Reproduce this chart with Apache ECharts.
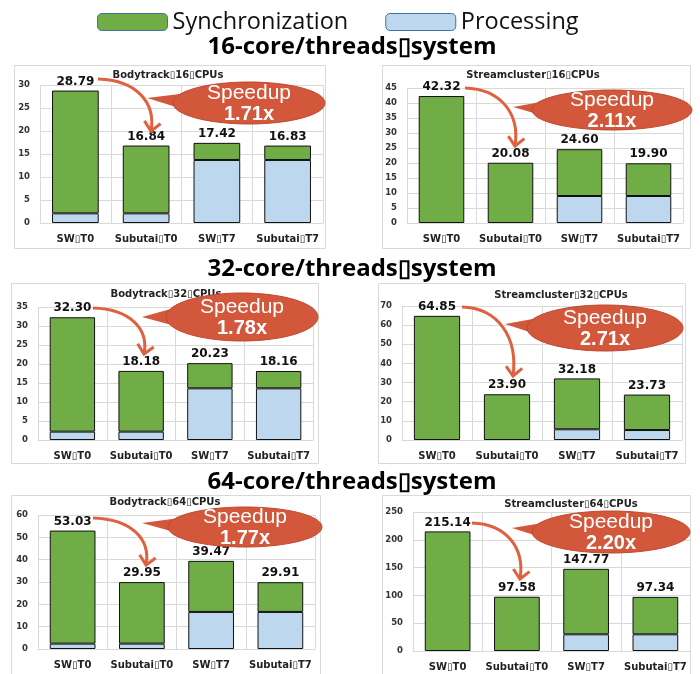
<!DOCTYPE html>
<html><head><meta charset="utf-8">
<script src="https://cdn.jsdelivr.net/npm/echarts@6/dist/echarts.min.js"></script>
<style>html,body{margin:0;padding:0;background:#fff}#c{width:700px;height:674px}</style>
</head><body><div id="c"></div>
<script>
const X = '\u25AF';
const categories = ['SW'+X+'T0', 'Subutai'+X+'T0', 'SW'+X+'T7', 'Subutai'+X+'T7'];
const sectionTitles = ['16-core/threads'+X+'system', '32-core/threads'+X+'system', '64-core/threads'+X+'system'];
const panelTitles = ['Bodytrack'+X+'16'+X+'CPUs', 'Streamcluster'+X+'16'+X+'CPUs',
                     'Bodytrack'+X+'32'+X+'CPUs', 'Streamcluster'+X+'32'+X+'CPUs',
                     'Bodytrack'+X+'64'+X+'CPUs', 'Streamcluster'+X+'64'+X+'CPUs'];
const speedups = ['1.71x', '2.11x', '1.78x', '2.71x', '1.77x', '2.20x'];

const body16Proc = [2.1, 2.1, 13.7, 13.7];
const body16Sync = [26.69, 14.74, 3.72, 3.13];
const body16Total = [28.79, 16.84, 17.42, 16.83];
const stream16Proc = [0, 0, 9.0, 9.0];
const stream16Sync = [42.32, 20.08, 15.60, 10.90];
const stream16Total = [42.32, 20.08, 24.60, 19.90];
const body32Proc = [2.2, 2.2, 13.6, 13.6];
const body32Sync = [30.10, 15.98, 6.63, 4.56];
const body32Total = [32.30, 18.18, 20.23, 18.16];
const stream32Proc = [0, 0, 5.6, 5.2];
const stream32Sync = [64.85, 23.90, 26.58, 18.53];
const stream32Total = [64.85, 23.90, 32.18, 23.73];
const body64Proc = [2.4, 2.4, 16.6, 16.6];
const body64Sync = [50.63, 27.55, 22.87, 13.31];
const body64Total = [53.03, 29.95, 39.47, 29.91];
const stream64Proc = [0, 0, 30, 30];
const stream64Sync = [215.14, 97.58, 117.77, 67.34];
const stream64Total = [215.14, 97.58, 147.77, 97.34];

const yMax = [30, 45, 35, 70, 60, 250];
const yStep = [5, 5, 5, 10, 10, 50];

const procData = [body16Proc, stream16Proc, body32Proc, stream32Proc, body64Proc, stream64Proc];
const syncData = [body16Sync, stream16Sync, body32Sync, stream32Sync, body64Sync, stream64Sync];
const totalData = [body16Total, stream16Total, body32Total, stream32Total, body64Total, stream64Total];

// layout
const grids = [
  {left: 40, top: 85, width: 283, height: 138},
  {left: 407, top: 88, width: 276, height: 135},
  {left: 38, top: 307, width: 275, height: 133},
  {left: 402, top: 306, width: 280, height: 134},
  {left: 38, top: 515, width: 277, height: 134},
  {left: 413, top: 512, width: 277, height: 139}
];
const panelBoxes = [
  [14, 65, 311, 183], [382, 65, 308, 183],
  [11, 283, 307, 180], [378, 283, 307, 180],
  [11, 495, 309, 200], [382, 495, 308, 200]
];
const panelTitlePos = [[168, 75], [533, 75], [166, 294], [561, 295], [165, 502], [571, 504]];
const sectionTitlePos = [[352, 47], [352, 269], [352, 482]];
const bubbles = [ // cx, cy, rx, ry, tipX, tipY
  [249, 103, 76, 21, 147, 98],
  [612, 110, 80, 20, 513, 107],
  [242, 317, 76, 24, 142, 317],
  [605, 328, 78, 23, 505, 324],
  [245, 527, 77, 20, 142, 523],
  [611, 532, 79, 21, 512, 528]
];
const arrows = [ // sx, sy, ex, ey
  [98, 79, 151, 131],
  [465, 88, 515, 146],
  [93, 308, 144, 354],
  [462, 307, 513, 376],
  [93, 518, 146, 565],
  [472, 523, 520, 579]
];

const GREEN = '#70AD47', BLUE = '#BDD7EE', RED = '#D2573B';
const font = '"Open Sans", "Noto Sans", sans-serif';
const dv = '"DejaVu Sans", sans-serif';

const option = {
  animation: false,
  grid: [], xAxis: [], yAxis: [], series: [], graphic: []
};

for (let i = 0; i < 6; i++) {
  option.grid.push(Object.assign({containLabel: false}, grids[i]));
  option.xAxis.push({
    type: 'category', gridIndex: i, data: categories,
    axisLine: {show: true, lineStyle: {color: '#d9d9d9'}},
    axisTick: {show: false},
    splitLine: {show: true, lineStyle: {color: '#d9d9d9'}},
    axisLabel: {color: '#222', fontWeight: 'bold', fontSize: 10, fontFamily: dv, margin: 11, interval: 0}
  });
  option.yAxis.push({
    type: 'value', gridIndex: i, min: 0, max: yMax[i], interval: yStep[i],
    axisLine: {show: false}, axisTick: {show: false},
    splitLine: {lineStyle: {color: '#d9d9d9'}},
    axisLabel: {color: '#333', fontWeight: 'bold', fontSize: 8.5, fontFamily: dv, margin: 10}
  });
  option.series.push({
    name: 'Processing', type: 'bar', stack: 's' + i, xAxisIndex: i, yAxisIndex: i,
    data: procData[i].map(v => v === 0 ? '-' : v), barWidth: '66%',
    itemStyle: {color: BLUE, borderColor: '#111', borderWidth: 1}
  });
  const totals = totalData[i];
  option.series.push({
    name: 'Synchronization', type: 'bar', stack: 's' + i, xAxisIndex: i, yAxisIndex: i,
    data: syncData[i], barWidth: '66%',
    itemStyle: {color: GREEN, borderColor: '#111', borderWidth: 1},
    label: {show: true, position: 'top', distance: 3, color: '#111', fontWeight: 'bold',
      fontSize: 12, fontFamily: dv,
      formatter: p => totals[p.dataIndex].toFixed(2)}
  });

  const b = panelBoxes[i];
  option.graphic.push({type: 'rect', z: -1, silent: true,
    shape: {x: b[0] + 0.5, y: b[1] + 0.5, width: b[2], height: b[3]},
    style: {fill: null, stroke: '#d9d9d9', lineWidth: 1}});
  const t = panelTitlePos[i];
  option.graphic.push({type: 'text', z: 10, x: t[0], y: t[1], silent: true,
    style: {text: panelTitles[i], fill: '#222', font: 'bold 10px ' + dv, align: 'center', verticalAlign: 'middle'}});

  // arrow
  const a = arrows[i];
  const dx = a[2] - a[0], dy = a[3] - a[1];
  const cp1 = [a[0] + 0.72 * dx, a[1] + 1];
  const cp2 = [a[2] + 5, a[1] + 0.45 * dy];
  option.graphic.push({type: 'bezierCurve', z: 20, silent: true,
    shape: {x1: a[0], y1: a[1], cpx1: cp1[0], cpy1: cp1[1], cpx2: cp2[0], cpy2: cp2[1], x2: a[2], y2: a[3]},
    style: {stroke: '#E0613F', lineWidth: 3, fill: null}});
  const ang = Math.atan2(a[3] - cp2[1], a[2] - cp2[0]);
  const L = 12, spread = 0.75;
  const p1 = [a[2] - L * Math.cos(ang - spread), a[3] - L * Math.sin(ang - spread)];
  const p2 = [a[2] - L * Math.cos(ang + spread), a[3] - L * Math.sin(ang + spread)];
  option.graphic.push({type: 'polyline', z: 20, silent: true,
    shape: {points: [p1, [a[2], a[3]], p2]},
    style: {stroke: '#E0613F', lineWidth: 3, fill: null, lineJoin: 'miter'}});

  // bubble
  const q = bubbles[i];
  option.graphic.push({type: 'polygon', z: 30, silent: true,
    shape: {points: [[q[4], q[5]], [q[0] - q[2] * 0.75, q[1] - q[3] * 0.5], [q[0] - q[2] * 0.5, q[1] + q[3] * 0.7]]},
    style: {fill: RED}});
  option.graphic.push({type: 'ellipse', z: 30, silent: true,
    shape: {cx: q[0], cy: q[1], rx: q[2], ry: q[3]},
    style: {fill: RED, stroke: '#C0472E', lineWidth: 1}});
  option.graphic.push({type: 'text', z: 31, x: q[0], y: q[1] - 10, silent: true,
    style: {text: 'Speedup', fill: '#fff', font: '21px "Liberation Sans", Arial, sans-serif', align: 'center', verticalAlign: 'middle'}});
  option.graphic.push({type: 'text', z: 31, x: q[0], y: q[1] + 11, silent: true,
    style: {text: speedups[i], fill: '#fff', font: 'bold 20px "Liberation Sans", Arial, sans-serif', align: 'center', verticalAlign: 'middle'}});
}

for (let s = 0; s < 3; s++) {
  const p = sectionTitlePos[s];
  option.graphic.push({type: 'text', x: p[0], y: p[1], silent: true,
    style: {text: sectionTitles[s], fill: '#000', font: 'bold 24px ' + font, align: 'center', verticalAlign: 'middle'}});
}

option.legend = {
  data: ['Synchronization', 'Processing'],
  top: 10, left: 97, padding: 0, itemWidth: 70, itemHeight: 17, itemGap: 37,
  textStyle: {fontSize: 23.5, color: '#111', fontFamily: font},
  itemStyle: {borderColor: '#41719C', borderWidth: 1}
};

const chart = echarts.init(document.getElementById('c'));
chart.setOption(option);
</script></body></html>
